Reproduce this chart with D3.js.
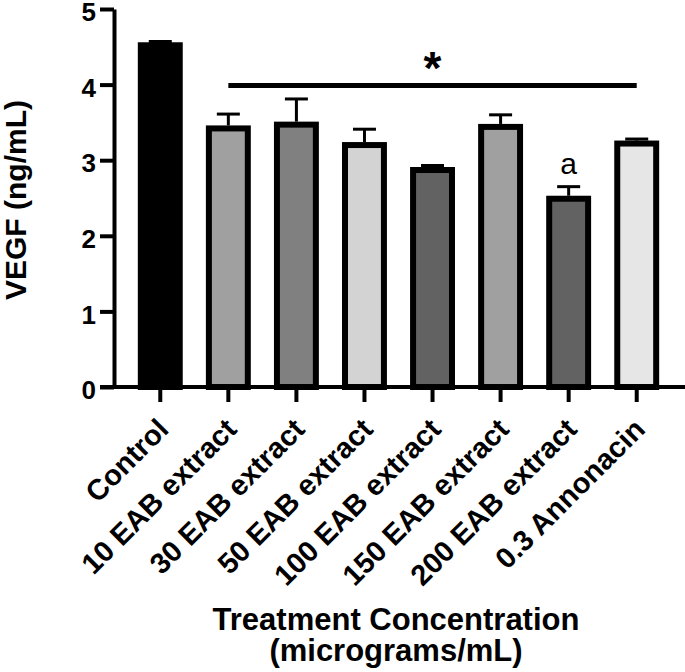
<!DOCTYPE html>
<html>
<head>
<meta charset="utf-8">
<script src="https://cdn.jsdelivr.net/npm/d3@7"></script>
<style>
  body { margin: 0; background: #fff; }
  svg { display: block; }
  text { font-family: Arial, "Liberation Sans", sans-serif; }
</style>
</head>
<body>
<div id="chart"></div>
<script>
const categories = ["Control", "10 EAB extract", "30 EAB extract", "50 EAB extract",
    "100 EAB extract", "150 EAB extract", "200 EAB extract", "0.3 Annonacin"];
const means = [4.56, 3.46, 3.51, 3.24, 2.91, 3.48, 2.53, 3.26];
const errors = [0.01, 0.15, 0.30, 0.17, 0.02, 0.12, 0.12, 0.02];
const fills = ["#000000", "#a0a0a0", "#808080", "#d3d3d3", "#626262", "#a0a0a0", "#626262", "#e6e6e6"];
const yTicks = [0, 1, 2, 3, 4, 5];
const sigFrom = "10 EAB extract", sigTo = "0.3 Annonacin";
const letterAt = "200 EAB extract";

const width = 685, height = 672;

const svg = d3.select("#chart").append("svg")
    .attr("width", width)
    .attr("height", height);

const x = d3.scaleBand()
    .domain(categories)
    .range([114, 683])
    .paddingInner(0.34)
    .paddingOuter(0.35);

const y = d3.scaleLinear().domain([0, 5]).range([387, 9]);

const bw = x.bandwidth();
const sw = 6;

// bars
svg.append("g")
    .selectAll("rect")
    .data(categories)
    .enter().append("rect")
    .attr("x", d => x(d) + sw / 2)
    .attr("width", bw - sw)
    .attr("y", (d, i) => y(means[i]) + sw / 2)
    .attr("height", (d, i) => y(0) - y(means[i]) - sw / 2)
    .attr("fill", (d, i) => fills[i])
    .attr("stroke", "#000")
    .attr("stroke-width", sw);

// error bars (upper only)
const err = svg.append("g").attr("stroke", "#000").attr("stroke-width", 3);
categories.forEach((c, i) => {
    let cx = x(c) + bw / 2;
    err.append("line")
        .attr("x1", cx).attr("x2", cx)
        .attr("y1", y(means[i])).attr("y2", y(means[i] + errors[i]));
    err.append("line")
        .attr("x1", cx - 11.5).attr("x2", cx + 11.5)
        .attr("y1", y(means[i] + errors[i])).attr("y2", y(means[i] + errors[i]));
});

// y axis
const yAxis = svg.append("g")
    .attr("transform", "translate(114,0)")
    .call(d3.axisLeft(y).tickValues(yTicks).tickFormat(d3.format("d"))
        .tickSize(14).tickSizeOuter(0).tickPadding(4));
yAxis.select(".domain").attr("stroke-width", 4);
yAxis.selectAll(".tick line").attr("stroke-width", 4);
yAxis.selectAll(".tick text")
    .attr("font-size", 26)
    .attr("font-weight", "bold")
    .attr("font-family", "Arial, 'Liberation Sans', sans-serif")
    .attr("fill", "#000")
    .attr("dy", "0.45em");

// x axis
const xAxis = svg.append("g")
    .attr("transform", "translate(0,387)")
    .call(d3.axisBottom(x).tickSize(15).tickSizeOuter(0));
xAxis.select(".domain").remove();
xAxis.append("line")
    .attr("x1", 100).attr("x2", 685)
    .attr("stroke", "#000").attr("stroke-width", 4);
xAxis.selectAll(".tick line").attr("stroke-width", 4);
xAxis.selectAll(".tick text")
    .attr("font-size", 29)
    .attr("font-weight", "bold")
    .attr("font-family", "Arial, 'Liberation Sans', sans-serif")
    .attr("fill", "#000")
    .attr("text-anchor", "end")
    .attr("y", 0).attr("dy", 0)
    .attr("transform", "translate(10,44) rotate(-45)");

// significance bar and star
svg.append("line")
    .attr("x1", x(sigFrom) + bw / 2)
    .attr("x2", x(sigTo) + bw / 2)
    .attr("y1", 85.5).attr("y2", 85.5)
    .attr("stroke", "#000").attr("stroke-width", 5);

svg.append("text")
    .attr("x", (x(sigFrom) + x(sigTo) + bw) / 2)
    .attr("y", 84)
    .attr("text-anchor", "middle")
    .attr("font-size", 46)
    .attr("font-weight", "bold")
    .text("*");

svg.append("text")
    .attr("x", x(letterAt) + bw / 2)
    .attr("y", 174)
    .attr("text-anchor", "middle")
    .attr("font-size", 30)
    .text("a");

// axis titles
svg.append("text")
    .attr("transform", "translate(26,200) rotate(-90)")
    .attr("text-anchor", "middle")
    .attr("font-size", 30)
    .attr("font-weight", "bold")
    .text("VEGF (ng/mL)");

svg.append("text")
    .attr("x", 396).attr("y", 630)
    .attr("text-anchor", "middle")
    .attr("font-size", 31)
    .attr("font-weight", "bold")
    .text("Treatment Concentration");

svg.append("text")
    .attr("x", 396).attr("y", 661)
    .attr("text-anchor", "middle")
    .attr("font-size", 31)
    .attr("font-weight", "bold")
    .text("(micrograms/mL)");
</script>
</body>
</html>
